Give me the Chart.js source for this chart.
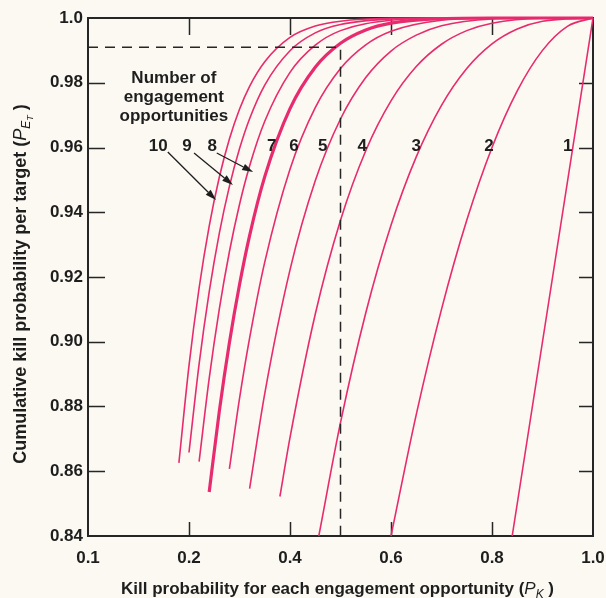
<!DOCTYPE html>
<html>
<head>
<meta charset="utf-8">
<script src="https://cdn.jsdelivr.net/npm/chart.js@4.4.0/dist/chart.umd.min.js"></script>
<style>
  html, body { margin: 0; padding: 0; background: #fbf9f2; }
  #chart { display: block; }
</style>
</head>
<body>
<canvas id="chart" width="606" height="598"></canvas>
<script>
// ---------- data ----------
const xTickValues = [0, 0.2, 0.4, 0.6, 0.8, 1.0];
const xTickLabels = ['0.1', '0.2', '0.4', '0.6', '0.8', '1.0'];   // leftmost label printed as 0.1 in the original
const yTickValues = [0.84, 0.86, 0.88, 0.90, 0.92, 0.94, 0.96, 0.98, 1.0];
const yTickLabels = ['0.84', '0.86', '0.88', '0.90', '0.92', '0.94', '0.96', '0.98', '1.0'];

// [Pk, PEt] per number of engagement opportunities
const curve10 = [[0.18,0.8626],[0.20,0.8926],[0.22,0.9166],[0.24,0.9357],[0.26,0.9508],[0.28,0.9626],[0.30,0.9718],[0.32,0.9789],[0.35,0.9865],[0.40,0.9940],[0.45,0.9975],[0.50,0.9990],[0.60,0.9999],[0.70,1.0],[1.0,1.0]];
const curve9  = [[0.20,0.8658],[0.22,0.8931],[0.24,0.9154],[0.26,0.9335],[0.28,0.9480],[0.30,0.9596],[0.32,0.9689],[0.35,0.9793],[0.40,0.9899],[0.45,0.9954],[0.50,0.9980],[0.60,0.9997],[0.70,1.0],[1.0,1.0]];
const curve8  = [[0.22,0.8630],[0.24,0.8887],[0.26,0.9101],[0.28,0.9278],[0.30,0.9424],[0.32,0.9543],[0.35,0.9681],[0.40,0.9832],[0.45,0.9916],[0.50,0.9961],[0.60,0.9993],[0.70,0.9999],[0.80,1.0],[1.0,1.0]];
const curve7  = [[0.24,0.8536],[0.26,0.8785],[0.28,0.8997],[0.30,0.9176],[0.32,0.9328],[0.35,0.9510],[0.40,0.9720],[0.45,0.9848],[0.50,0.9922],[0.55,0.9963],[0.60,0.9984],[0.70,0.9998],[0.80,1.0],[1.0,1.0]];
const curve6  = [[0.28,0.8607],[0.30,0.8824],[0.32,0.9011],[0.35,0.9246],[0.40,0.9533],[0.45,0.9723],[0.50,0.9844],[0.55,0.9917],[0.60,0.9959],[0.70,0.9993],[0.80,0.9999],[0.90,1.0],[1.0,1.0]];
const curve5  = [[0.32,0.8546],[0.35,0.8840],[0.40,0.9222],[0.45,0.9497],[0.50,0.9688],[0.55,0.9816],[0.60,0.9898],[0.65,0.9947],[0.70,0.9976],[0.80,0.9997],[0.90,1.0],[1.0,1.0]];
const curve4  = [[0.38,0.8522],[0.40,0.8704],[0.45,0.9085],[0.50,0.9375],[0.55,0.9590],[0.60,0.9744],[0.65,0.9850],[0.70,0.9919],[0.75,0.9961],[0.80,0.9984],[0.90,0.9999],[1.0,1.0]];
const curve3  = [[0.457,0.84],[0.50,0.8750],[0.55,0.9089],[0.60,0.9360],[0.65,0.9571],[0.70,0.9730],[0.75,0.9844],[0.80,0.9920],[0.85,0.9966],[0.90,0.9990],[1.0,1.0]];
const curve2  = [[0.60,0.84],[0.65,0.8775],[0.70,0.9100],[0.75,0.9375],[0.80,0.9600],[0.85,0.9775],[0.90,0.9900],[0.95,0.9975],[1.0,1.0]];
const curve1  = [[0.84,0.84],[1.0,1.0]];

// dashed guide: Pk = 0.5 with 7 opportunities -> PEt ~ 0.991
const guideLine = [[0, 0.991], [0.5, 0.991], [0.5, 0.84]];

// curve number labels
const curveLabels  = ['10', '9', '8', '7', '6', '5', '4', '3', '2', '1'];
const curveLabelX  = [0.139, 0.196, 0.246, 0.364, 0.408, 0.465, 0.543, 0.650, 0.794, 0.950];
const curveLabelY  = 0.9605;

// "Number of engagement opportunities" caption
const captionLines = ['Number of', 'engagement', 'opportunities'];
const captionX = 0.170;
const captionY = [0.9815, 0.9756, 0.9697];

// arrows from labels 10, 9, 8 to their curves: [x0, y0, x1, y1]
const arrows = [
  [0.158, 0.9586, 0.2535, 0.9438],
  [0.210, 0.9583, 0.287, 0.9484],
  [0.255, 0.9583, 0.327, 0.9524]
];

// ---------- styling ----------
const INK = '#262626';
const PINK = '#e82a6e';
const FONT = '"Liberation Sans", Arial, Helvetica, sans-serif';

const curves = [
  { n: 10, pts: curve10 }, { n: 9, pts: curve9 }, { n: 8, pts: curve8 },
  { n: 7, pts: curve7 }, { n: 6, pts: curve6 }, { n: 5, pts: curve5 },
  { n: 4, pts: curve4 }, { n: 3, pts: curve3 }, { n: 2, pts: curve2 },
  { n: 1, pts: curve1 }
];

const datasets = [{
  label: 'guide',
  data: guideLine,
  borderColor: INK,
  borderWidth: 1.5,
  borderDash: [10, 7],
  pointRadius: 0,
  tension: 0,
  fill: false
}].concat(curves.map(c => ({
  label: String(c.n),
  data: c.pts,
  borderColor: PINK,
  borderWidth: c.n === 7 ? 3.2 : 1.6,
  pointRadius: 0,
  cubicInterpolationMode: 'monotone',
  fill: false,
  clip: false
})));

// draw rich text (for subscripts) starting at x, baseline y
function richWidth(ctx, parts) {
  let w = 0;
  parts.forEach(p => { ctx.font = p.font; w += ctx.measureText(p.text).width; });
  return w;
}
function drawRich(ctx, parts, x, y) {
  parts.forEach(p => {
    ctx.font = p.font;
    ctx.fillText(p.text, x, y + (p.dy || 0));
    x += ctx.measureText(p.text).width;
  });
}

const decorations = {
  id: 'decorations',
  beforeDatasetsDraw(chart) {
    const { ctx, chartArea: a, scales: { x, y } } = chart;
    ctx.save();
    ctx.strokeStyle = INK;
    ctx.lineWidth = 2;
    ctx.beginPath();
    ctx.moveTo(a.left - 1, a.top);
    ctx.lineTo(a.right, a.top);
    ctx.lineTo(a.right, a.bottom + 1);
    ctx.stroke();

    // inward ticks
    ctx.lineWidth = 1.5;
    ctx.beginPath();
    yTickValues.slice(1, -1).forEach(v => {
      const py = Math.round(y.getPixelForValue(v)) + 0.5;
      ctx.moveTo(a.left, py); ctx.lineTo(a.left + 17, py);
      ctx.moveTo(a.right, py); ctx.lineTo(a.right - 14, py);
    });
    xTickValues.slice(1, -1).forEach(v => {
      const px = Math.round(x.getPixelForValue(v)) + 0.5;
      ctx.moveTo(px, a.bottom); ctx.lineTo(px, a.bottom - 14);
      ctx.moveTo(px, a.top); ctx.lineTo(px, a.top + 17);
    });
    ctx.stroke();
    ctx.restore();
  },
  afterDatasetsDraw(chart) {
    const { ctx, scales: { x, y } } = chart;
    ctx.save();
    ctx.fillStyle = '#1e1e1e';
    ctx.strokeStyle = '#1e1e1e';
    ctx.textAlign = 'center';
    ctx.textBaseline = 'middle';

    // caption
    ctx.font = 'bold 17px ' + FONT;
    captionLines.forEach((t, i) => {
      ctx.fillText(t, x.getPixelForValue(captionX), y.getPixelForValue(captionY[i]));
    });

    // curve numbers
    ctx.font = 'bold 17px ' + FONT;
    curveLabels.forEach((t, i) => {
      ctx.fillText(t, x.getPixelForValue(curveLabelX[i]), y.getPixelForValue(curveLabelY));
    });

    // arrows
    ctx.lineWidth = 1.3;
    arrows.forEach(([x0, y0, x1, y1]) => {
      const sx = x.getPixelForValue(x0), sy = y.getPixelForValue(y0);
      const ex = x.getPixelForValue(x1), ey = y.getPixelForValue(y1);
      const ang = Math.atan2(ey - sy, ex - sx);
      const hl = 11, hw = 3.5;
      ctx.beginPath();
      ctx.moveTo(sx, sy);
      ctx.lineTo(ex - hl * Math.cos(ang), ey - hl * Math.sin(ang));
      ctx.stroke();
      ctx.beginPath();
      ctx.moveTo(ex, ey);
      ctx.lineTo(ex - hl * Math.cos(ang) - hw * Math.sin(ang), ey - hl * Math.sin(ang) + hw * Math.cos(ang));
      ctx.lineTo(ex - hl * Math.cos(ang) + hw * Math.sin(ang), ey - hl * Math.sin(ang) - hw * Math.cos(ang));
      ctx.closePath();
      ctx.fill();
    });
    ctx.restore();
  },
  afterDraw(chart) {
    const { ctx, chartArea: a } = chart;
    ctx.save();
    ctx.fillStyle = '#1e1e1e';
    ctx.textAlign = 'left';
    ctx.textBaseline = 'alphabetic';

    // x axis title
    const xParts = [
      { text: 'Kill probability for each engagement opportunity (', font: 'bold 17px ' + FONT },
      { text: 'P', font: 'italic 17px ' + FONT },
      { text: 'K', font: 'italic 12px ' + FONT, dy: 4 },
      { text: ' )', font: 'bold 17px ' + FONT }
    ];
    const xw = richWidth(ctx, xParts);
    drawRich(ctx, xParts, (a.left + a.right) / 2 - 3 - xw / 2, 594);

    // y axis title (rotated)
    const yParts = [
      { text: 'Cumulative kill probability per target (', font: 'bold 18px ' + FONT },
      { text: 'P', font: 'italic 18px ' + FONT },
      { text: 'E', font: 'italic 12px ' + FONT, dy: 4 },
      { text: 'T', font: 'italic 9px ' + FONT, dy: 7 },
      { text: ' )', font: 'bold 18px ' + FONT }
    ];
    const yw = richWidth(ctx, yParts);
    ctx.translate(26, 284);
    ctx.rotate(-Math.PI / 2);
    drawRich(ctx, yParts, -yw / 2, 0);
    ctx.restore();
  }
};

new Chart(document.getElementById('chart'), {
  type: 'line',
  data: { datasets: datasets },
  options: {
    responsive: false,
    animation: false,
    layout: { padding: { top: 18, right: 13, left: 0, bottom: 0 } },
    plugins: { legend: { display: false }, tooltip: { enabled: false } },
    scales: {
      x: {
        type: 'linear',
        min: 0, max: 1,
        afterBuildTicks: s => { s.ticks = xTickValues.map(v => ({ value: v })); },
        afterFit: s => { s.height = 62; s.paddingLeft = 0; s.paddingRight = 0; },
        ticks: {
          color: '#1e1e1e',
          padding: 12,
          maxRotation: 0,
          font: { family: FONT, size: 17, weight: 'bold' },
          callback: (v, i) => xTickLabels[i]
        },
        grid: { display: false, tickLength: 0 },
        border: { display: true, color: INK, width: 2 }
      },
      y: {
        type: 'linear',
        min: 0.84, max: 1.0,
        afterBuildTicks: s => { s.ticks = yTickValues.map(v => ({ value: v })); },
        afterFit: s => { s.width = 88; s.paddingTop = 0; s.paddingBottom = 0; },
        ticks: {
          color: '#1e1e1e',
          padding: 5,
          font: { family: FONT, size: 17, weight: 'bold' },
          callback: (v, i) => yTickLabels[i]
        },
        grid: { display: false, tickLength: 0 },
        border: { display: true, color: INK, width: 2 }
      }
    }
  },
  plugins: [decorations]
});
</script>
</body>
</html>
